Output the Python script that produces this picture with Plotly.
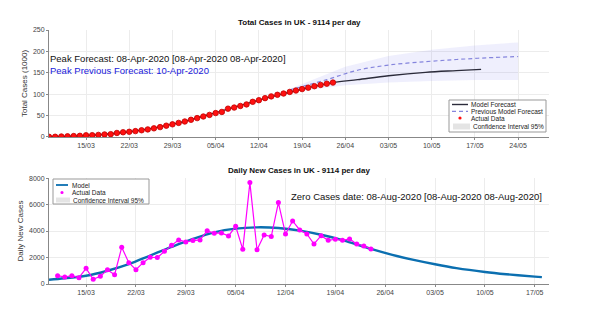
import plotly.graph_objects as go
import pandas as pd

# cumulative cases (thousands), 09/03 .. 24/04
cum_dates = pd.date_range("2020-03-09", "2020-04-24", freq="D")
cum_vals = [0.3, 0.4, 1.0, 1.5, 2.1, 2.6, 3.8, 4.1, 4.7, 5.8, 6.5, 9.3, 10.9, 12.0,
            13.6, 15.6, 17.6, 20.1, 23.0, 26.3, 29.5, 32.8, 36.1, 40.1, 44.0, 47.8,
            51.5, 55.8, 58.4, 66.1, 68.7, 72.4, 76.0, 82.1, 85.9, 90.7, 94.8, 98.5,
            101.5, 105.2, 108.5, 111.9, 115.2, 118.6, 121.6, 124.5, 127.1]

model_dates = ["2020-03-09", "2020-03-16", "2020-03-23", "2020-03-30", "2020-04-06",
               "2020-04-13", "2020-04-20", "2020-04-24", "2020-04-28", "2020-05-03",
               "2020-05-09", "2020-05-14", "2020-05-18"]
model_vals = [0.5, 4.0, 14.0, 33.0, 61.0, 90.0, 115.0, 127.0, 134.0, 143.0, 151.0, 155.0, 158.0]

prev_dates = ["2020-04-17", "2020-04-23", "2020-04-28", "2020-05-03", "2020-05-09",
              "2020-05-14", "2020-05-19", "2020-05-24"]
prev_vals = [110.0, 134.0, 156.0, 168.0, 176.0, 181.0, 185.0, 188.0]

ci_dates = ["2020-04-17", "2020-04-21", "2020-04-26", "2020-05-03", "2020-05-10",
            "2020-05-17", "2020-05-24"]
ci_upper = [112.0, 135.0, 164.0, 189.0, 204.0, 214.0, 221.0]
ci_lower = [104.0, 112.0, 121.0, 127.0, 130.5, 133.0, 133.0]

# daily new cases, 11/03 .. 24/04
daily_dates = pd.date_range("2020-03-11", "2020-04-24", freq="D")
daily_vals = [630, 530, 630, 480, 1185, 350, 580, 1080, 700, 2770, 1610, 1080, 1610,
              2020, 2000, 2470, 2920, 3330, 3180, 3280, 3330, 4030, 3830, 3860, 3630,
              4360, 2620, 7660, 2590, 3700, 3580, 6150, 3780, 4760, 4080, 3780, 3020,
              3650, 3300, 3380, 3300, 3400, 3020, 2870, 2650]

dmodel_dates = ["2020-03-09", "2020-03-12", "2020-03-15", "2020-03-18", "2020-03-21",
                "2020-03-24", "2020-03-27", "2020-03-30", "2020-04-02", "2020-04-05",
                "2020-04-08", "2020-04-11", "2020-04-14", "2020-04-17", "2020-04-20",
                "2020-04-24", "2020-04-27", "2020-04-30", "2020-05-03", "2020-05-06",
                "2020-05-10", "2020-05-13", "2020-05-17", "2020-05-18"]
dmodel_vals = [280, 430, 620, 1000, 1500, 2150, 2800, 3400, 3900, 4180, 4280, 4230,
               4030, 3720, 3320, 2650, 2200, 1820, 1490, 1200, 910, 740, 555, 520]

top_ticks = ["2020-03-15", "2020-03-22", "2020-03-29", "2020-04-05", "2020-04-12",
             "2020-04-19", "2020-04-26", "2020-05-03", "2020-05-10", "2020-05-17", "2020-05-24"]
bot_ticks = top_ticks[:-1]

FONT = "Liberation Sans, Arial, sans-serif"

# plot area in screen pixels: x 49..549, y 30..284 (page body adds 8px)
def px(x):
    return (x - 49) / 500.0

def py(y):
    return 1 - (y - 30) / 254.0

fig = go.Figure()

# top panel
fig.add_trace(go.Scatter(x=ci_dates + ci_dates[::-1], y=ci_upper + ci_lower[::-1],
                         mode="lines", fill="toself", fillcolor="rgba(120,120,240,0.12)",
                         line=dict(width=0), xaxis="x", yaxis="y"))
fig.add_trace(go.Scatter(x=prev_dates, y=prev_vals, mode="lines",
                         line=dict(color="#8585dd", width=1.2, dash="4px,3px", shape="spline"),
                         xaxis="x", yaxis="y"))
fig.add_trace(go.Scatter(x=model_dates, y=model_vals, mode="lines",
                         line=dict(color="#2b2b3a", width=1.4, shape="spline"),
                         xaxis="x", yaxis="y"))
fig.add_trace(go.Scatter(x=cum_dates, y=cum_vals, mode="markers",
                         marker=dict(color="#ff1010", size=5.5,
                                     line=dict(color="#c00000", width=0.8)),
                         xaxis="x", yaxis="y"))

# bottom panel
fig.add_trace(go.Scatter(x=dmodel_dates, y=dmodel_vals, mode="lines",
                         line=dict(color="#0b6fb0", width=2.4, shape="spline"),
                         xaxis="x2", yaxis="y2"))
fig.add_trace(go.Scatter(x=daily_dates, y=daily_vals, mode="lines+markers",
                         line=dict(color="#ff00ff", width=1.2),
                         marker=dict(color="#ff00ff", size=5),
                         xaxis="x2", yaxis="y2"))

axis_common = dict(showgrid=True, gridcolor="#ececec", gridwidth=1, showline=True,
                   linecolor="#888", linewidth=1, ticks="outside", ticklen=2,
                   tickcolor="#888", tickfont=dict(size=7, color="#444", family=FONT),
                   zeroline=False, automargin=False)

fig.update_layout(
    width=592, height=312,
    paper_bgcolor="white", plot_bgcolor="white",
    margin=dict(l=41, r=51, t=22, b=36),
    font=dict(family=FONT),
    showlegend=False,
    xaxis=dict(axis_common, domain=[0, 1], anchor="y", tickvals=top_ticks,
               tickformat="%d/%m", range=["2020-03-09", "2020-05-29"]),
    yaxis=dict(axis_common, domain=[0.579, 1], anchor="x", range=[0, 250],
               tickvals=[0, 50, 100, 150, 200, 250],
               title=dict(text="Total Cases (1000)", font=dict(size=8, color="#333"),
                          standoff=4)),
    xaxis2=dict(axis_common, domain=[0, 1], anchor="y2", tickvals=bot_ticks,
                tickformat="%d/%m", range=["2020-03-09 19:00", "2020-05-19"]),
    yaxis2=dict(axis_common, domain=[0, 0.417], anchor="x2", range=[0, 8000],
                tickvals=[0, 2000, 4000, 6000, 8000],
                title=dict(text="Daily New Cases", font=dict(size=8, color="#333"),
                           standoff=4)),
)

# titles and text
fig.add_annotation(text="<b>Total Cases in UK - 9114 per day</b>", xref="paper", yref="paper",
                   x=0.5, y=1.0, yanchor="bottom", yshift=1, showarrow=False,
                   font=dict(size=8, color="#111"))
fig.add_annotation(text="<b>Daily New Cases in UK - 9114 per day</b>", xref="paper", yref="paper",
                   x=0.5, y=0.417, yanchor="bottom", yshift=1, showarrow=False,
                   font=dict(size=8, color="#111"))
fig.add_annotation(text="Peak Forecast: 08-Apr-2020 [08-Apr-2020 08-Apr-2020]",
                   xref="paper", yref="paper", x=px(48), y=py(58), xanchor="left",
                   yanchor="middle", showarrow=False, font=dict(size=9.5, color="#111"))
fig.add_annotation(text="Peak Previous Forecast: 10-Apr-2020",
                   xref="paper", yref="paper", x=px(48), y=py(71), xanchor="left",
                   yanchor="middle", showarrow=False, font=dict(size=9.5, color="#1a1adb"))
fig.add_annotation(text="Zero Cases date: 08-Aug-2020 [08-Aug-2020 08-Aug-2020]",
                   xref="paper", yref="paper", x=px(544), y=py(196), xanchor="right",
                   yanchor="middle", showarrow=False, font=dict(size=9.5, color="#111"))

# custom legends (compact, MATLAB style)
def leg_text(txt, x, y):
    fig.add_annotation(text=txt, xref="paper", yref="paper", x=px(x), y=py(y),
                       xanchor="left", yanchor="middle", showarrow=False,
                       font=dict(size=6.5, color="#222"))

def leg_box(x0, y0, x1, y1):
    fig.add_shape(type="rect", xref="paper", yref="paper", x0=px(x0), x1=px(x1),
                  y0=py(y0), y1=py(y1), fillcolor="white",
                  line=dict(color="#999", width=1), layer="above")

def leg_line(x0, x1, y, color, width, dash="solid"):
    fig.add_shape(type="line", xref="paper", yref="paper", x0=px(x0), x1=px(x1),
                  y0=py(y), y1=py(y), line=dict(color=color, width=width, dash=dash),
                  layer="above")

def leg_dot(x, y, color, r=1.6):
    fig.add_shape(type="circle", xref="paper", yref="paper", x0=px(x - r), x1=px(x + r),
                  y0=py(y + r), y1=py(y - r), fillcolor=color, line=dict(width=0),
                  layer="above")

def leg_patch(x0, x1, y0, y1, color):
    fig.add_shape(type="rect", xref="paper", yref="paper", x0=px(x0), x1=px(x1),
                  y0=py(y0), y1=py(y1), fillcolor=color, line=dict(width=0),
                  layer="above")

# top legend
leg_box(449, 100, 546, 132)
leg_line(452, 468, 104.5, "#2b2b3a", 1.4)
leg_text("Model Forecast", 469, 104.5)
leg_line(452, 468, 111.3, "#8585dd", 1.2, "4px,3px")
leg_text("Previous Model Forecast", 469, 111.3)
leg_dot(460, 118, "#ff1010")
leg_text("Actual Data", 469, 118)
leg_patch(453, 470, 123.5, 129.5, "#e4e4e4")
leg_text("Confidence Interval 95%", 471, 126.5)

# bottom legend
leg_box(53, 179, 149, 204)
leg_line(56, 68, 185, "#0b6fb0", 1.8)
leg_text("Model", 70, 185)
leg_dot(62, 192.5, "#ff00ff")
leg_text("Actual Data", 70, 192.5)
leg_patch(56, 70, 197.5, 202.5, "#e4e4e4")
leg_text("Confidence Interval 95%", 71, 200)

fig.write_html("out.html")
